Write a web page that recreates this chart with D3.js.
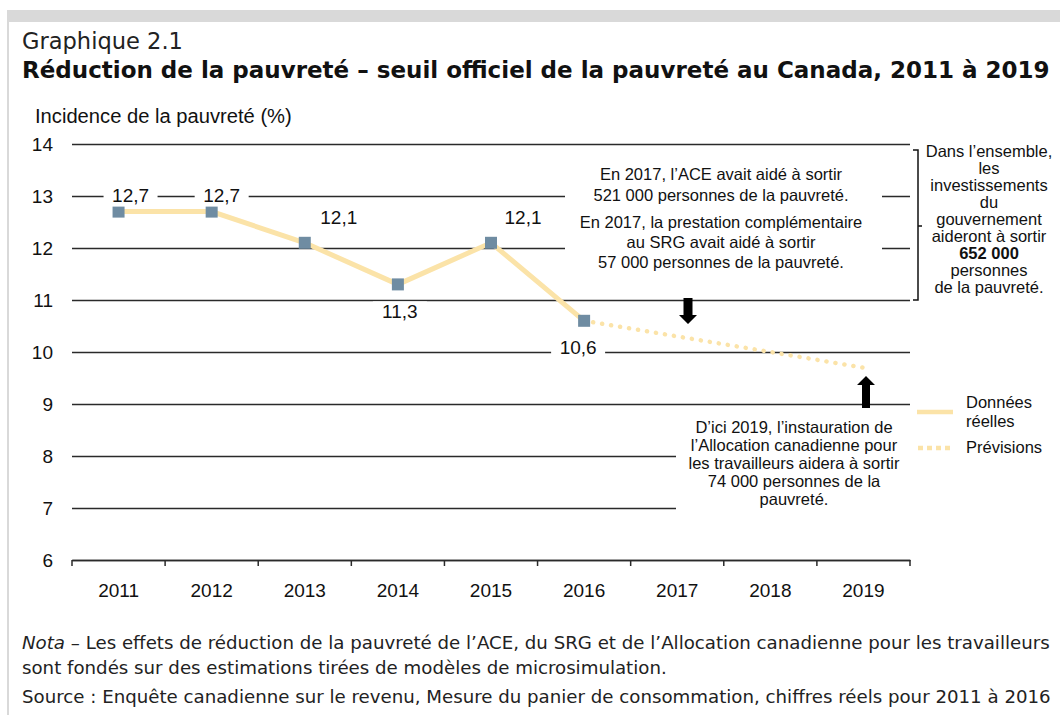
<!DOCTYPE html>
<html>
<head>
<meta charset="utf-8">
<script src="https://cdn.jsdelivr.net/npm/d3@7"></script>
<style>
  body { margin: 0; background: #fff; }
  svg { display: block; }
</style>
</head>
<body>
<svg width="1060" height="715"></svg>
<script>
// data
var years = ["2011", "2012", "2013", "2014", "2015", "2016", "2017", "2018", "2019"];
var actualYears = ["2011", "2012", "2013", "2014", "2015", "2016"];
var actualValues = [12.7, 12.7, 12.1, 11.3, 12.1, 10.6];
var forecastYears = ["2016", "2017", "2018", "2019"];
var forecastValues = [10.6, 10.3, 10.0, 9.7];
var yTicks = [6, 7, 8, 9, 10, 11, 12, 13, 14];

var boxTop = [
  "En 2017, l\u2019ACE avait aidé à sortir",
  "521 000 personnes de la pauvreté."
];
var boxTop2 = [
  "En 2017, la prestation complémentaire",
  "au SRG avait aidé à sortir",
  "57 000 personnes de la pauvreté."
];
var boxRight = ["Dans l\u2019ensemble,", "les", "investissements", "du", "gouvernement",
  "aideront à sortir", "652 000", "personnes", "de la pauvreté."];
var boxBottom = ["D\u2019ici 2019, l\u2019instauration de", "l\u2019Allocation canadienne pour",
  "les travailleurs aidera à sortir", "74 000 personnes de la", "pauvreté."];

var lineColor = "#fbe3a8";
var pointColor = "#6f8ca2";
var gridColor = "#2a2a2a";
var chartFont = "'Liberation Sans', Arial, sans-serif";
var titleFont = "'DejaVu Sans', sans-serif";

var svg = d3.select("svg");

// frame
svg.append("rect").attr("x", 7).attr("y", 10).attr("width", 1053).attr("height", 12).attr("fill", "#d9d9d9");
svg.append("rect").attr("x", 7).attr("y", 10).attr("width", 2).attr("height", 705).attr("fill", "#d9d9d9");

function fit(sel, width) {
  var w = sel.node().getComputedTextLength();
  var fs = parseFloat(sel.attr("font-size"));
  sel.attr("font-size", fs * width / w);
}

fit(svg.append("text").attr("x", 22).attr("y", 49).attr("font-family", titleFont)
  .attr("font-size", 20).attr("fill", "#222").text("Graphique 2.1"), 161);
fit(svg.append("text").attr("x", 22).attr("y", 78).attr("font-family", titleFont)
  .attr("font-weight", "bold").attr("font-size", 20).attr("fill", "#111")
  .text("Réduction de la pauvreté \u2013 seuil officiel de la pauvreté au Canada, 2011 à 2019"), 1028);

fit(svg.append("text").attr("x", 35).attr("y", 123).attr("font-family", chartFont)
  .attr("font-size", 17).attr("fill", "#111").text("Incidence de la pauvreté  (%)"), 257);

// scales
var x = d3.scaleBand().domain(years).range([72, 910]);
var y = d3.scaleLinear().domain([6, 14]).range([560, 144]);
var cx = function (d) { return x(d) + x.bandwidth() / 2; };

// gridlines + y labels
var yAxis = svg.append("g").attr("transform", "translate(72,0)")
  .call(d3.axisLeft(y).tickValues(yTicks).tickSize(-838).tickPadding(19).tickFormat(d3.format("d")));
yAxis.select(".domain").remove();
yAxis.selectAll("line").attr("stroke", gridColor).attr("stroke-width", 1.5);
yAxis.selectAll("text").attr("font-family", chartFont).attr("font-size", 19).attr("fill", "#111");

// x axis
var xAxis = svg.append("g").attr("transform", "translate(0,560)")
  .call(d3.axisBottom(x).tickSize(0).tickPadding(24));
xAxis.select(".domain").attr("stroke", gridColor).attr("stroke-width", 1.5);
xAxis.selectAll("text").attr("font-family", chartFont).attr("font-size", 19).attr("fill", "#111");
svg.append("g").selectAll("line")
  .data(years.map(function (d) { return x(d); }).concat([910]))
  .enter().append("line")
  .attr("x1", function (d) { return d; }).attr("x2", function (d) { return d; })
  .attr("y1", 560).attr("y2", 566).attr("stroke", gridColor).attr("stroke-width", 1.5);

// white areas behind annotations
svg.append("rect").attr("x", 565).attr("y", 152).attr("width", 317).attr("height", 140).attr("fill", "#fff");
svg.append("rect").attr("x", 676).attr("y", 412).attr("width", 240).attr("height", 112).attr("fill", "#fff");

// series
var actual = actualYears.map(function (d, i) { return { year: d, value: actualValues[i] }; });
var forecast = forecastYears.map(function (d, i) { return { year: d, value: forecastValues[i] }; });
var line = d3.line().x(function (d) { return cx(d.year); }).y(function (d) { return y(d.value); });

svg.append("path").datum(forecast).attr("d", line).attr("fill", "none")
  .attr("stroke", lineColor).attr("stroke-width", 4.5).attr("stroke-linecap", "round")
  .attr("stroke-dasharray", "0.1 9");
svg.append("path").datum(actual).attr("d", line).attr("fill", "none")
  .attr("stroke", lineColor).attr("stroke-width", 5);
svg.append("g").selectAll("rect").data(actual).enter().append("rect")
  .attr("x", function (d) { return cx(d.year) - 6; })
  .attr("y", function (d) { return y(d.value) - 6; })
  .attr("width", 12).attr("height", 12).attr("fill", pointColor);

// data labels (offsets from the point)
var labelOffsets = [[12, -10], [10, -10], [34, -19], [2, 34], [32, -19], [-6, 33]];
var labels = svg.append("g").selectAll("g").data(actual).enter().append("g")
  .attr("transform", function (d, i) {
    return "translate(" + (cx(d.year) + labelOffsets[i][0]) + "," + (y(d.value) + labelOffsets[i][1]) + ")";
  });
labels.append("rect").attr("x", -27).attr("y", -17).attr("width", 54).attr("height", 22).attr("fill", "#fff");
labels.append("text").attr("text-anchor", "middle").attr("font-family", chartFont)
  .attr("font-size", 19).attr("fill", "#111")
  .text(function (d) { return d3.format(".1f")(d.value).replace(".", ","); });

// annotation texts
function block(lines, xc, y0, dy, bold) {
  var g = svg.append("g");
  g.selectAll("text").data(lines).enter().append("text")
    .attr("x", xc).attr("y", function (d, i) { return y0 + i * dy; })
    .attr("text-anchor", "middle").attr("font-family", chartFont).attr("font-size", 16.5)
    .attr("fill", "#111")
    .attr("font-weight", function (d) { return d === bold ? "bold" : "normal"; })
    .text(function (d) { return d; });
}
block(boxTop, 721, 180, 21);
block(boxTop2, 721, 228, 20);
block(boxRight, 989, 157, 17, "652 000");
block(boxBottom, 794, 433, 18);

// bracket
svg.append("path").attr("d", "M913,150 L918,150 L918,300 L913,300 M918,226 L922,226")
  .attr("fill", "none").attr("stroke", "#111").attr("stroke-width", 1.5);

// arrows
svg.append("path").attr("d", "M683.5,298 h9 v17 h4.5 l-9,9 l-9,-9 h4.5 z").attr("fill", "#000");
svg.append("path").attr("d", "M862,408 v-23 h-5 l9,-9 l9,9 h-5 v23 z").attr("fill", "#000");

// legend
svg.append("line").attr("x1", 917).attr("x2", 953).attr("y1", 412).attr("y2", 412)
  .attr("stroke", lineColor).attr("stroke-width", 4.5);
svg.append("line").attr("x1", 918).attr("x2", 953).attr("y1", 448).attr("y2", 448)
  .attr("stroke", lineColor).attr("stroke-width", 4.5).attr("stroke-dasharray", "5 4");
var legendText = svg.append("g").attr("font-family", chartFont).attr("font-size", 16.5).attr("fill", "#111");
legendText.append("text").attr("x", 966).attr("y", 408).text("Données");
legendText.append("text").attr("x", 966).attr("y", 427).text("réelles");
legendText.append("text").attr("x", 966).attr("y", 453).text("Prévisions");

// notes
var note1 = svg.append("text").attr("x", 22).attr("y", 649).attr("font-family", titleFont)
  .attr("font-size", 15).attr("fill", "#222");
note1.append("tspan").attr("font-style", "italic").text("Nota");
note1.append("tspan").text(" \u2013 Les effets de réduction de la pauvreté de l\u2019ACE, du SRG et de l\u2019Allocation canadienne pour les travailleurs");
fit(note1, 1028);
var fsNote = parseFloat(note1.attr("font-size"));
svg.append("text").attr("x", 22).attr("y", 674).attr("font-family", titleFont)
  .attr("font-size", fsNote).attr("fill", "#222")
  .text("sont fondés sur des estimations tirées de modèles de microsimulation.");
svg.append("text").attr("x", 22).attr("y", 703).attr("font-family", titleFont)
  .attr("font-size", fsNote).attr("fill", "#222")
  .text("Source : Enquête canadienne sur le revenu, Mesure du panier de consommation, chiffres réels pour 2011 à 2016");
</script>
</body>
</html>
